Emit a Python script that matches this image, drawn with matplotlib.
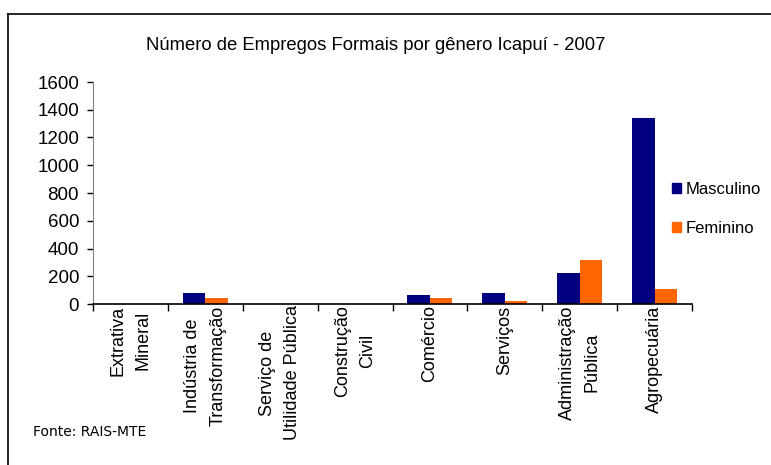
import matplotlib
matplotlib.use("Agg")
import matplotlib.pyplot as plt
import numpy as np
from matplotlib.lines import Line2D
from matplotlib.patches import Patch

categories = ["Extrativa\nMineral", "Indústria de\nTransformação", "Serviço de\nUtilidade Pública",
              "Construção\nCivil", "Comércio", "Serviços", "Administração\nPública", "Agropecuária"]
masculino = [0, 80, 0, 0, 65, 80, 225, 1338]
feminino = [0, 45, 0, 0, 42, 22, 316, 108]
yticks = [0, 200, 400, 600, 800, 1000, 1200, 1400, 1600]

plt.rcParams['font.family'] = ['Liberation Sans', 'DejaVu Sans']

fig = plt.figure(figsize=(7.71, 4.65), dpi=100)
ax = fig.add_axes([93/771, 1-304/465, (692-93)/771, (304-82)/465])

x = np.arange(len(categories))
w = 0.3
ax.bar(x - w/2, masculino, w, color='#000080', label='Masculino')
ax.bar(x + w/2, feminino, w, color='#FF6600', label='Feminino')

ax.set_xlim(-0.5, len(categories) - 0.5)
ax.set_ylim(0, 1600)
ax.set_yticks(yticks)
ax.set_yticklabels([str(v) for v in yticks], fontsize=13.5)
ax.tick_params(axis='y', length=4, width=1, color='black', pad=6)

ax.set_xticks(x)
ax.set_xticklabels(categories, rotation=90, fontsize=13, linespacing=1.6, ha='center', va='top',
                   multialignment='center')
ax.tick_params(axis='x', length=0, pad=1)
ax.set_xticks(np.arange(len(categories) + 1) - 0.5, minor=True)
ax.tick_params(axis='x', which='minor', length=5, width=1, color='black', direction='out')

for s in ['top', 'right']:
    ax.spines[s].set_visible(False)
ax.spines['left'].set_color('#808080')
ax.spines['bottom'].set_color('black')
ax.spines['bottom'].set_linewidth(1.2)

fig.text(376/771, 1-46/465, "Número de Empregos Formais por gênero Icapuí - 2007",
         ha='center', va='center', fontsize=13.3)

handles = [Patch(color='#000080', label='Masculino'), Patch(color='#FF6600', label='Feminino')]
fig.legend(handles=handles, loc='upper left', bbox_to_anchor=(672/771, 1-182/465), frameon=False,
           fontsize=12, handlelength=0.55, handleheight=0.55, handletextpad=0.25, labelspacing=1.45,
           borderaxespad=0, borderpad=0)

fig.text(33/771, 1-432/465, "Fonte: RAIS-MTE", ha='left', va='center', fontsize=10,
         family='DejaVu Sans')

fig.add_artist(Line2D([8/771, 1], [1-14/465, 1-14/465], transform=fig.transFigure, color='black', lw=1.2))
fig.add_artist(Line2D([8/771, 8/771], [0, 1-14/465], transform=fig.transFigure, color='black', lw=1.2))

fig.savefig("out.png", dpi=100)
